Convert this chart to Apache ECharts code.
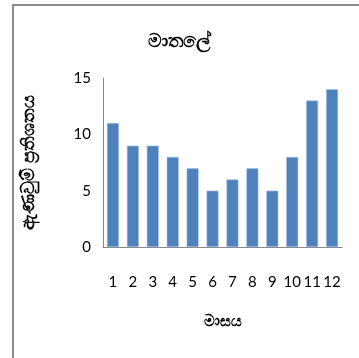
<!DOCTYPE html>
<html>
<head>
<meta charset="utf-8">
<script src="https://cdn.jsdelivr.net/npm/echarts@6/dist/echarts.min.js"></script>
<style>
html, body { margin: 0; padding: 0; background: #fff; }
#chart { width: 359px; height: 358px; }
</style>
</head>
<body>
<div id="chart"></div>
<script>
const months = ['1', '2', '3', '4', '5', '6', '7', '8', '9', '10', '11', '12'];
const orderPercent = [11, 9, 9, 8, 7, 5, 6, 7, 5, 8, 13, 14];
const yTicks = [0, 5, 10, 15];

const chart = echarts.init(document.getElementById('chart'));
const option = {
  animation: false,
  textStyle: { fontFamily: 'Lato, "Open Sans", sans-serif' },
  graphic: [
    {
      type: 'rect',
      shape: { x: 13, y: 5, width: 500, height: 500 },
      style: { fill: 'none', stroke: '#8c8c8c', lineWidth: 2 },
      silent: true
    }
  ],
  title: {
    text: 'මාතලේ',
    left: 'center',
    top: 26,
    textStyle: { fontSize: 19, fontWeight: 'bold', color: '#000' }
  },
  grid: { left: 103, right: 17, top: 78, bottom: 111 },
  xAxis: {
    type: 'category',
    data: months,
    name: 'මාසය',
    nameLocation: 'middle',
    nameGap: 67,
    nameTextStyle: { fontSize: 15, fontWeight: 'bold', color: '#000' },
    axisLine: { lineStyle: { color: '#868686', width: 1 } },
    axisTick: { show: false },
    axisLabel: { color: '#000', fontSize: 15, margin: 28, interval: 0 }
  },
  yAxis: {
    type: 'value',
    min: yTicks[0],
    max: yTicks[yTicks.length - 1],
    interval: 5,
    name: 'ඇණවුම් ප්‍රතිශතය',
    nameLocation: 'middle',
    nameGap: 66,
    nameRotate: 90,
    nameTextStyle: { fontSize: 18, fontWeight: 'bold', color: '#000' },
    axisLine: { show: true, lineStyle: { color: '#868686', width: 1 } },
    axisTick: { show: false },
    splitLine: { show: false },
    axisLabel: { color: '#000', fontSize: 15, margin: 12 }
  },
  series: [
    {
      type: 'bar',
      data: orderPercent,
      barWidth: 12,
      itemStyle: { color: '#4F81BD', borderColor: '#a9c1e0', borderWidth: 0.6 }
    }
  ]
};
chart.setOption(option);
</script>
</body>
</html>
